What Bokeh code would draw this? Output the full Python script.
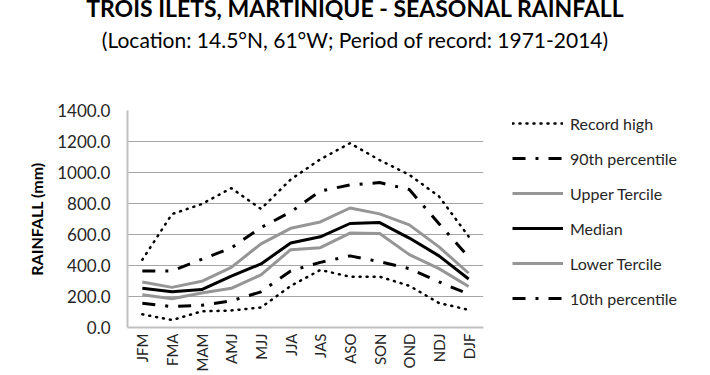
import math
from bokeh.plotting import figure
from bokeh.layouts import column, row
from bokeh.models import (Range1d, FactorRange, Legend, LegendItem, Div,
                          NumeralTickFormatter, FixedTicker)
from bokeh.embed import file_html
from bokeh.resources import INLINE

# ---------------- data ----------------
seasons = ["JFM", "FMA", "MAM", "AMJ", "MJJ", "JJA", "JAS", "ASO", "SON", "OND", "NDJ", "DJF"]
record_high = [437, 732, 796, 899, 765, 955, 1085, 1189, 1080, 985, 846, 587]
pct90 = [365, 365, 440, 514, 645, 745, 880, 920, 935, 890, 670, 455]
upper_tercile = [293, 259, 298, 388, 540, 640, 681, 771, 733, 662, 520, 350]
median = [253, 230, 245, 332, 410, 545, 585, 671, 677, 577, 462, 313]
lower_tercile = [212, 185, 222, 253, 340, 502, 515, 609, 607, 470, 380, 265]
pct10 = [156, 135, 143, 172, 230, 365, 420, 462, 425, 380, 294, 215]
record_low = [85, 48, 104, 110, 129, 268, 371, 328, 328, 269, 158, 114]
y_ticks = [0, 200, 400, 600, 800, 1000, 1200, 1400]

title_text = "TROIS ILETS, MARTINIQUE - SEASONAL RAINFALL"
subtitle_text = "(Location: 14.5°N, 61°W; Period of record: 1971-2014)"
y_label = "RAINFALL (mm)"

FONT = "Lato"

# ---------------- title block ----------------
title_div = Div(
    width=710, height=70, margin=0,
    text=(
        '<div style="width:710px;margin:0;padding:0;text-align:center;'
        'font-family:Lato;color:black;">'
        '<div style="margin:-5px 0 0 0;font-weight:bold;font-size:23px;line-height:26px;">'
        + title_text +
        '</div>'
        '<div style="margin:7px 0 0 0;font-size:21px;line-height:24px;">'
        + subtitle_text +
        '</div></div>'
    ),
)

# ---------------- main chart ----------------
p = figure(width=490, height=305,
           x_range=FactorRange(*seasons, range_padding=0),
           y_range=Range1d(0, 1400),
           output_backend="svg", toolbar_location=None,
           min_border_left=127, min_border_right=7,
           min_border_top=9, min_border_bottom=48)
p.outline_line_color = None
p.background_fill_color = "white"
p.border_fill_color = "white"

p.xgrid.grid_line_color = None
p.ygrid.grid_line_color = "#a6a6a6"
p.ygrid.grid_line_width = 1
p.yaxis.ticker = FixedTicker(ticks=y_ticks)
p.yaxis.formatter = NumeralTickFormatter(format="0.0")

for ax in (p.xaxis[0], p.yaxis[0]):
    ax.axis_line_color = "#c0c0c0"
    ax.axis_line_width = 2
    ax.major_tick_line_color = None
    ax.minor_tick_line_color = None
    ax.major_tick_in = 0
    ax.major_tick_out = 0
    ax.major_label_text_font = FONT
    ax.major_label_text_font_size = "17px"
    ax.major_label_text_color = "#262626"
p.yaxis.major_label_standoff = 17
p.yaxis.axis_label = y_label
p.yaxis.axis_label_text_font = FONT
p.yaxis.axis_label_text_font_style = "bold"
p.yaxis.axis_label_text_font_size = "16px"
p.yaxis.axis_label_text_color = "#000000"
p.yaxis.axis_label_standoff = 8
p.xaxis.major_label_orientation = math.pi / 2
p.xaxis.major_label_standoff = 6
p.xaxis.major_label_text_font_size = "15px"

series = [
    ("Record high", record_high, dict(line_color="black", line_width=2.5, line_dash="1 6", line_cap="round")),
    ("90th percentile", pct90, dict(line_color="black", line_width=3, line_dash="13 10 3 10", line_cap="butt")),
    ("Upper Tercile", upper_tercile, dict(line_color="#969696", line_width=3)),
    ("Median", median, dict(line_color="black", line_width=3)),
    ("Lower Tercile", lower_tercile, dict(line_color="#969696", line_width=3)),
    ("10th percentile", pct10, dict(line_color="black", line_width=3, line_dash="13 10 3 10", line_cap="butt")),
    ("Record low", record_low, dict(line_color="black", line_width=2.5, line_dash="1 6", line_cap="round")),
]

for name, vals, style in series:
    p.line(x=seasons, y=vals, line_join="round", **style)

# ---------------- legend panel ----------------
# the same series are drawn here outside the visible range, only to key the legend
leg = figure(width=220, height=305,
             x_range=FactorRange(*seasons, range_padding=0),
             y_range=Range1d(-2000, -1000),
             x_axis_type=None, y_axis_type=None,
             output_backend="svg", toolbar_location=None,
             min_border_left=22, min_border_top=40,
             min_border_right=0, min_border_bottom=0)
leg.outline_line_color = None
leg.xgrid.grid_line_color = None
leg.ygrid.grid_line_color = None
items = []
for name, vals, style in series:
    r = leg.line(x=seasons, y=vals, line_join="round", **style)
    items.append(LegendItem(label=name, renderers=[r]))

legend = Legend(items=items, location="top_left", ncols=1,
                glyph_width=51, glyph_height=26, label_height=26,
                spacing=9, label_standoff=7, padding=0, margin=0,
                label_text_font=FONT, label_text_font_size="16px",
                label_text_color="#262626",
                background_fill_alpha=0, border_line_alpha=0)
leg.add_layout(legend, "center")

layout = column(title_div, row(p, leg, spacing=0), spacing=0)

open("out.html", "w").write(file_html(layout, INLINE))
